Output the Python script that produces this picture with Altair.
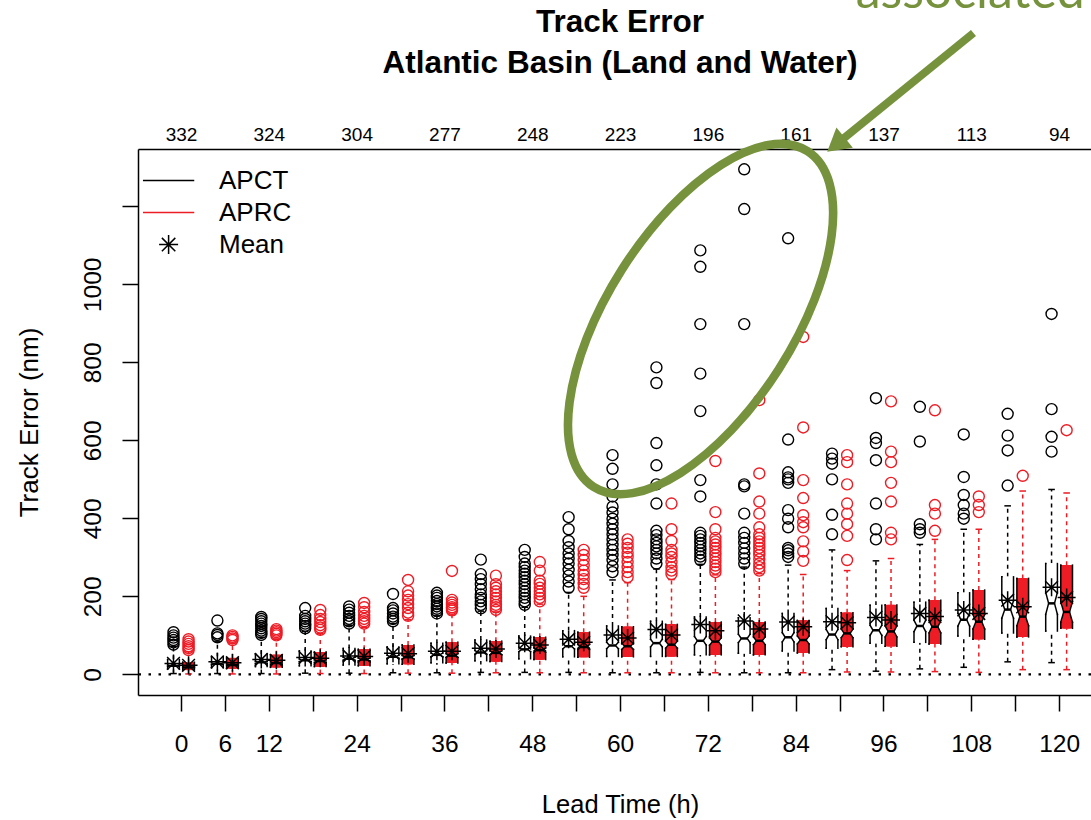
import altair as alt
import numpy as np
import pandas as pd

# ------------------------------------------------------------------ data
lead_times = [0, 6, 12, 18, 24, 30, 36, 42, 48, 54, 60, 66, 72, 78, 84, 90, 96, 102, 108, 114, 120]
x_label_hours = [0, 6, 12, 24, 36, 48, 60, 72, 84, 96, 108, 120]
count_hours = [0, 12, 24, 36, 48, 60, 72, 84, 96, 108, 120]
case_counts = [332, 324, 304, 277, 248, 223, 196, 161, 137, 113, 94]
n_cases = [332, 328, 324, 314, 304, 290, 277, 262, 248, 236, 223, 210, 196, 178, 161, 149, 137, 125, 113, 103, 94]
y_ticks = [0, 200, 400, 600, 800, 1000, 1200]
legend_items = ["APCT", "APRC", "Mean"]

apct_lo = [2, 2, 2, 3, 3, 4, 4, 5, 5, 5, 4, 4, 5, 4, 4, 12, 8, 14, 18, 32, 30]
apct_q1 = [14, 17, 20, 22, 24, 27, 30, 35, 40, 45, 46, 46, 50, 54, 60, 67, 80, 82, 98, 106, 111]
apct_med = [22, 27, 31, 36, 40, 45, 50, 56, 64, 72, 74, 80, 86, 92, 95, 102, 113, 124, 140, 166, 182]
apct_q3 = [38, 45, 52, 60, 66, 70, 80, 88, 98, 112, 124, 136, 147, 145, 156, 169, 177, 185, 209, 250, 284]
apct_hi = [72, 85, 95, 110, 126, 130, 150, 162, 172, 210, 242, 270, 282, 275, 280, 319, 291, 333, 372, 432, 474]
apct_mean = [28, 32, 38, 43, 47, 54, 59, 67, 80, 90, 101, 115, 128, 137, 134, 135, 146, 156, 165, 190, 223]
apct_out = [
    [76, 82, 88, 94, 100, 108],
    [95, 101, 105, 138],
    [101, 106, 112, 118, 124, 130, 136, 142, 147],
    [118, 124, 130, 136, 142, 150, 170],
    [130, 136, 142, 150, 158, 166, 174],
    [136, 142, 148, 156, 164, 170, 206],
    [156, 162, 168, 174, 180, 188, 196, 202, 209],
    [169, 178, 187, 196, 205, 218, 231, 244, 257, 294],
    [178, 187, 196, 205, 213, 222, 231, 240, 249, 258, 266, 275, 284, 301, 319],
    [222, 238, 253, 268, 284, 297, 310, 326, 342, 372, 403],
    [262, 277, 293, 306, 319, 332, 346, 359, 372, 386, 399, 415, 430, 456, 487, 527, 562],
    [284, 297, 310, 319, 328, 337, 346, 357, 368, 438, 487, 536, 593, 747, 787],
    [293, 302, 310, 319, 328, 337, 346, 355, 363, 456, 498, 675, 771, 898, 1045, 1087],
    [284, 297, 310, 323, 337, 350, 363, 412, 482, 487, 898, 1193, 1295],
    [301, 310, 318, 324, 377, 399, 421, 491, 500, 505, 518, 602, 1118],
    [359, 409, 500, 540, 553, 566],
    [346, 372, 438, 549, 593, 606, 708],
    [363, 372, 385, 597, 686],
    [399, 412, 434, 460, 506, 615],
    [484, 574, 612, 668],
    [571, 609, 680, 924],
]

aprc_lo = [1, 1, 1, 2, 2, 3, 3, 4, 4, 4, 4, 4, 4, 4, 4, 6, 6, 7, 5, 12, 12]
aprc_q1 = [11, 15, 18, 20, 22, 26, 29, 33, 38, 44, 45, 46, 50, 50, 55, 71, 72, 78, 90, 96, 118]
aprc_med = [18, 24, 29, 34, 38, 44, 48, 55, 62, 70, 72, 76, 84, 86, 88, 105, 110, 122, 135, 148, 160]
aprc_q3 = [31, 42, 50, 57, 64, 75, 82, 85, 95, 108, 122, 128, 134, 134, 138, 158, 178, 190, 216, 246, 280]
aprc_hi = [58, 80, 90, 104, 120, 140, 152, 160, 180, 200, 235, 243, 255, 258, 256, 266, 297, 346, 372, 470, 465]
aprc_mean = [23, 30, 36, 41, 46, 53, 59, 65, 75, 82, 93, 101, 112, 116, 122, 132, 139, 148, 156, 173, 197]
aprc_out = [
    [62, 67, 72, 78, 84, 90],
    [88, 92, 96, 100],
    [100, 104, 108, 112, 116],
    [114, 120, 126, 134, 142, 152, 165],
    [130, 136, 142, 150, 160, 172, 183],
    [150, 158, 170, 180, 191, 202, 213, 242],
    [164, 168, 172, 178, 184, 191, 265],
    [165, 172, 178, 187, 196, 205, 213, 222, 231, 253],
    [187, 196, 205, 213, 222, 232, 240, 266, 288],
    [222, 232, 244, 255, 266, 280, 293, 306, 319],
    [249, 262, 275, 288, 301, 312, 324, 335, 346],
    [257, 266, 275, 288, 301, 310, 319, 342, 372, 438],
    [262, 271, 279, 288, 297, 306, 315, 324, 333, 341, 350, 372, 416, 547],
    [266, 275, 284, 295, 306, 315, 324, 333, 341, 350, 359, 377, 412, 443, 515, 703],
    [291, 315, 341, 377, 390, 408, 452, 498, 633, 865],
    [293, 355, 385, 412, 438, 487, 544, 562],
    [346, 363, 443, 491, 544, 571, 700],
    [368, 412, 434, 677],
    [416, 434, 456],
    [509],
    [626],
]

# annotation text / placement (in data units: hours, nm)
title_lines = ["Track Error", "Atlantic Basin (Land and Water)"]
title_y = [1647, 1543]
title_x = 60
callout_text = "associated"
callout_xy = (92.2, 1707.7)
ellipse_xy = (71.0, 911.0)
arrow_from = (108.3, 1644.4)
arrow_tip_center = (89.5, 1358.0)

# ------------------------------------------------------------------ styles
RED = "#EE1C25"
GREEN = "#76923C"
FONT = "Liberation Sans"
OFFSET, HALF_W, CAP_W, MED_W = 1.03, 0.80, 0.45, 0.40
ASTERISK = ("M -1 0 L 1 0 M 0 -1 L 0 1 M -0.707 -0.707 L 0.707 0.707 "
            "M -0.707 0.707 L 0.707 -0.707")
LINE_SYM = "M -2.7 0 L 2.7 0"
r, k = 0.467, 0.5523
ELLIPSE = (f"M 1 0 C 1 {r*k:.4f} {k} {r} 0 {r} C {-k} {r} -1 {r*k:.4f} -1 0 "
           f"C -1 {-r*k:.4f} {-k} {-r} 0 {-r} C {k} {-r} 1 {-r*k:.4f} 1 0 Z")

# ------------------------------------------------------------------ tables
models = {
    "APCT": (apct_lo, apct_q1, apct_med, apct_q3, apct_hi, apct_mean, apct_out),
    "APRC": (aprc_lo, aprc_q1, aprc_med, aprc_q3, aprc_hi, aprc_mean, aprc_out),
}
stat_rows, seg_rows, fill_rows, out_rows = [], [], [], []
for m, (lo, q1, med, q3, hi, mean, out) in models.items():
    for i, h in enumerate(lead_times):
        a, md, b = q1[i], med[i], q3[i]
        stat_rows.append(dict(lead=h, model=m, lo=lo[i], q1=a, med=md, q3=b, hi=hi[i], mean=mean[i]))
        nh = 1.58 * (b - a) / np.sqrt(n_cases[i])   # R notch half-height
        nl, nu = max(a, md - nh), min(b, md + nh)
        # outline of the notched box (R's polygon), as segments (width factors, y)
        for s in (-1, 1):
            for f1, y1, f2, y2 in [(1, a, -1, a), (1, b, -1, b), (1, a, 1, nl), (1, nl, 0.5, md),
                                   (0.5, md, 1, nu), (1, nu, 1, b)]:
                if s == 1 and f2 == -1:
                    continue
                seg_rows.append(dict(lead=h, model=m, f1=s * f1, f2=s * f2 if f2 != -1 else -1,
                                     y1=y1, y2=y2))
        # fill: nested rectangles approximating the notch
        fill_rows.append(dict(lead=h, model=m, f=0.5, y1=a, y2=b))
        for f in (0.625, 0.75, 0.875, 1.0):
            t = (nh * (2 * f - 1)) if nh > 0 else 0
            if md - t > a:
                fill_rows.append(dict(lead=h, model=m, f=f, y1=a, y2=md - t))
            if md + t < b:
                fill_rows.append(dict(lead=h, model=m, f=f, y1=md + t, y2=b))
        for v in out[i]:
            out_rows.append(dict(lead=h, model=m, value=v))
stats_df = pd.DataFrame(stat_rows)
seg_df = pd.DataFrame(seg_rows)
fill_df = pd.DataFrame(fill_rows)
out_df = pd.DataFrame(out_rows)
legend_df = pd.DataFrame({"model": legend_items, "lx": [np.nan] * 3, "ly": [np.nan] * 3})

# ------------------------------------------------------------------ scales & axes
X_SCALE = alt.Scale(domain=[-5.88, 124.36], nice=False, zero=False)
Y_SCALE = alt.Scale(domain=[-53, 1347], nice=False, zero=False)
COLOR_SCALE = alt.Scale(domain=legend_items, range=["black", RED, "black"])
FILL_SCALE = alt.Scale(domain=["APCT", "APRC"], range=["white", RED])
SHAPE_SCALE = alt.Scale(domain=legend_items, range=[LINE_SYM, LINE_SYM, ASTERISK])

y_axis = alt.Axis(values=y_ticks, format="d", labelExpr="datum.value > 1000 ? '' : datum.label",
                  title="Track Error (nm)", labelAngle=270, labelAlign="center",
                  labelBaseline="alphabetic", labelPadding=22, labelFontSize=24.5,
                  labelOverlap=False, tickSize=16, titleFontSize=26, titleAngle=270,
                  titleAlign="center", titleBaseline="alphabetic", titleX=-100.5, titleY=273)
x_axis_bottom = alt.Axis(values=lead_times, format="d",
                         labelExpr=f"indexof({x_label_hours}, datum.value) >= 0 ? datum.label : ''",
                         title="Lead Time (h)", tickSize=16, labelPadding=40,
                         labelBaseline="alphabetic", labelFontSize=24.5, labelOverlap=False,
                         labelFlush=False, titleFontSize=25.5, titleBaseline="alphabetic",
                         titleAlign="center", titleX=482, titleY=117)
x_axis_top = alt.Axis(orient="top", values=count_hours, title=None, ticks=False, tickSize=0,
                      labelExpr=f"{[str(c) for c in case_counts]}[indexof({count_hours}, datum.value)]",
                      labelPadding=9, labelBaseline="alphabetic", labelFontSize=19,
                      labelOverlap=False, labelFlush=False)

leg = alt.Legend(orient="none", legendX=17.6, legendY=18.6, title=None, labelFontSize=26,
                 labelFont=FONT, labelColor="black", symbolSize=361, symbolStrokeWidth=1.5,
                 labelOffset=37.4, rowPadding=6, padding=0, offset=0)


def X(field, axis=None):
    return alt.X(field, scale=X_SCALE, axis=axis, title=None)


def Y(field):
    return alt.Y(field, scale=Y_SCALE, axis=y_axis, title="Track Error (nm)")


col = alt.Color("model:N", scale=COLOR_SCALE, legend=leg)
xc_expr = f"datum.lead + (datum.model == 'APCT' ? {-OFFSET} : {OFFSET})"

base = alt.Chart(stats_df).transform_calculate(xc=xc_expr).transform_calculate(
    cl=f"datum.xc - {CAP_W}", cr=f"datum.xc + {CAP_W}",
    ml=f"datum.xc - {MED_W}", mr=f"datum.xc + {MED_W}")

zero = alt.Chart(pd.DataFrame({"zero": [0]})).mark_rule(
    color="black", strokeWidth=2.2, strokeDash=[2.5, 7.5]).encode(y=Y("zero:Q"))

whisk_hi = base.mark_rule(strokeWidth=1.5, strokeDash=[4, 4]).encode(
    x=X("xc:Q", x_axis_bottom), y=Y("q3:Q"), y2="hi:Q", color=col)
whisk_lo = base.mark_rule(strokeWidth=1.5, strokeDash=[4, 4]).encode(
    x=X("xc:Q"), y=Y("lo:Q"), y2="q1:Q", color=col)
cap_hi = base.mark_rule(strokeWidth=1.5).encode(x=X("cl:Q"), x2="cr:Q", y=Y("hi:Q"), color=col)
cap_lo = base.mark_rule(strokeWidth=1.5).encode(x=X("cl:Q"), x2="cr:Q", y=Y("lo:Q"), color=col)

box_fill = alt.Chart(fill_df).transform_calculate(xc=xc_expr).transform_calculate(
    xl=f"datum.xc - {HALF_W} * datum.f", xr=f"datum.xc + {HALF_W} * datum.f"
).mark_rect(strokeWidth=0).encode(
    x=X("xl:Q"), x2="xr:Q", y=Y("y1:Q"), y2="y2:Q",
    fill=alt.Fill("model:N", scale=FILL_SCALE, legend=None))

box_line = alt.Chart(seg_df).transform_calculate(xc=xc_expr).transform_calculate(
    sx1=f"datum.xc + {HALF_W} * datum.f1", sx2=f"datum.xc + {HALF_W} * datum.f2"
).mark_rule(color="black", strokeWidth=1.5, strokeCap="square").encode(
    x=X("sx1:Q"), x2="sx2:Q", y=Y("y1:Q"), y2="y2:Q")

medians = base.mark_rule(strokeWidth=2.5, color="black").encode(
    x=X("ml:Q"), x2="mr:Q", y=Y("med:Q"))

outliers = alt.Chart(out_df).transform_calculate(xc=xc_expr).mark_point(
    shape="circle", filled=False, size=121, strokeWidth=1.4, opacity=1).encode(
    x=X("xc:Q", x_axis_top), y=Y("value:Q"), color=col)

means = base.mark_point(shape=ASTERISK, filled=False, size=324, strokeWidth=1.5,
                        color="black", opacity=1).encode(x=X("xc:Q"), y=Y("mean:Q"))

legend_layer = alt.Chart(legend_df).mark_point(filled=False, strokeWidth=1.5, size=361,
                                               opacity=1).encode(
    x=X("lx:Q"), y=Y("ly:Q"), color=col,
    shape=alt.Shape("model:N", scale=SHAPE_SCALE, legend=leg))

ellipse = alt.Chart(pd.DataFrame({"x": [ellipse_xy[0]], "y": [ellipse_xy[1]]})).mark_point(
    shape=ELLIPSE, filled=False, size=158404, angle=302.5, strokeWidth=8.6, color=GREEN,
    opacity=1, clip=False).encode(x=X("x:Q"), y=Y("y:Q"))

arrow_df = pd.DataFrame({"x": [arrow_from[0]], "y": [arrow_from[1]],
                         "x2": [arrow_tip_center[0]], "y2": [arrow_tip_center[1]]})
shaft = alt.Chart(arrow_df).mark_rule(strokeWidth=8, color=GREEN, clip=False).encode(
    x=X("x:Q"), y=Y("y:Q"), x2="x2:Q", y2="y2:Q")
head = alt.Chart(arrow_df).mark_point(shape="triangle-up", filled=True, size=676, angle=230.8,
                                      color=GREEN, opacity=1, clip=False).encode(
    x=X("x2:Q"), y=Y("y2:Q"))

callout = alt.Chart(pd.DataFrame({"x": [callout_xy[0]], "y": [callout_xy[1]],
                                  "t": [callout_text]})).mark_text(
    font="Lato", fontSize=50, color=GREEN, align="left", baseline="alphabetic",
    clip=False).encode(x=X("x:Q"), y=Y("y:Q"), text="t:N")

titles = alt.Chart(pd.DataFrame({"x": [title_x, title_x], "y": title_y, "t": title_lines})).mark_text(
    font=FONT, fontWeight="bold", fontSize=31.5, color="black", align="center",
    baseline="alphabetic", clip=False).encode(x=X("x:Q"), y=Y("y:Q"), text="t:N")

chart = alt.layer(
    zero, whisk_hi, whisk_lo, cap_hi, cap_lo, box_fill, box_line, medians, outliers, means,
    ellipse, shaft, head, callout, titles, legend_layer
).resolve_axis(x="independent").properties(
    width=953, height=546,
    padding={"left": 138, "top": 149, "right": 0, "bottom": 125},
    autosize=alt.AutoSizeParams(type="none"),
    background="white",
).configure_axis(
    grid=False, domainColor="black", domainWidth=1.5, tickColor="black", tickWidth=1.5,
    labelColor="black", titleColor="black", labelFont=FONT, titleFont=FONT,
    titleFontWeight="normal",
).configure_view(strokeWidth=0)

chart.save("out.html", embed_options={"renderer": "svg", "actions": False})
